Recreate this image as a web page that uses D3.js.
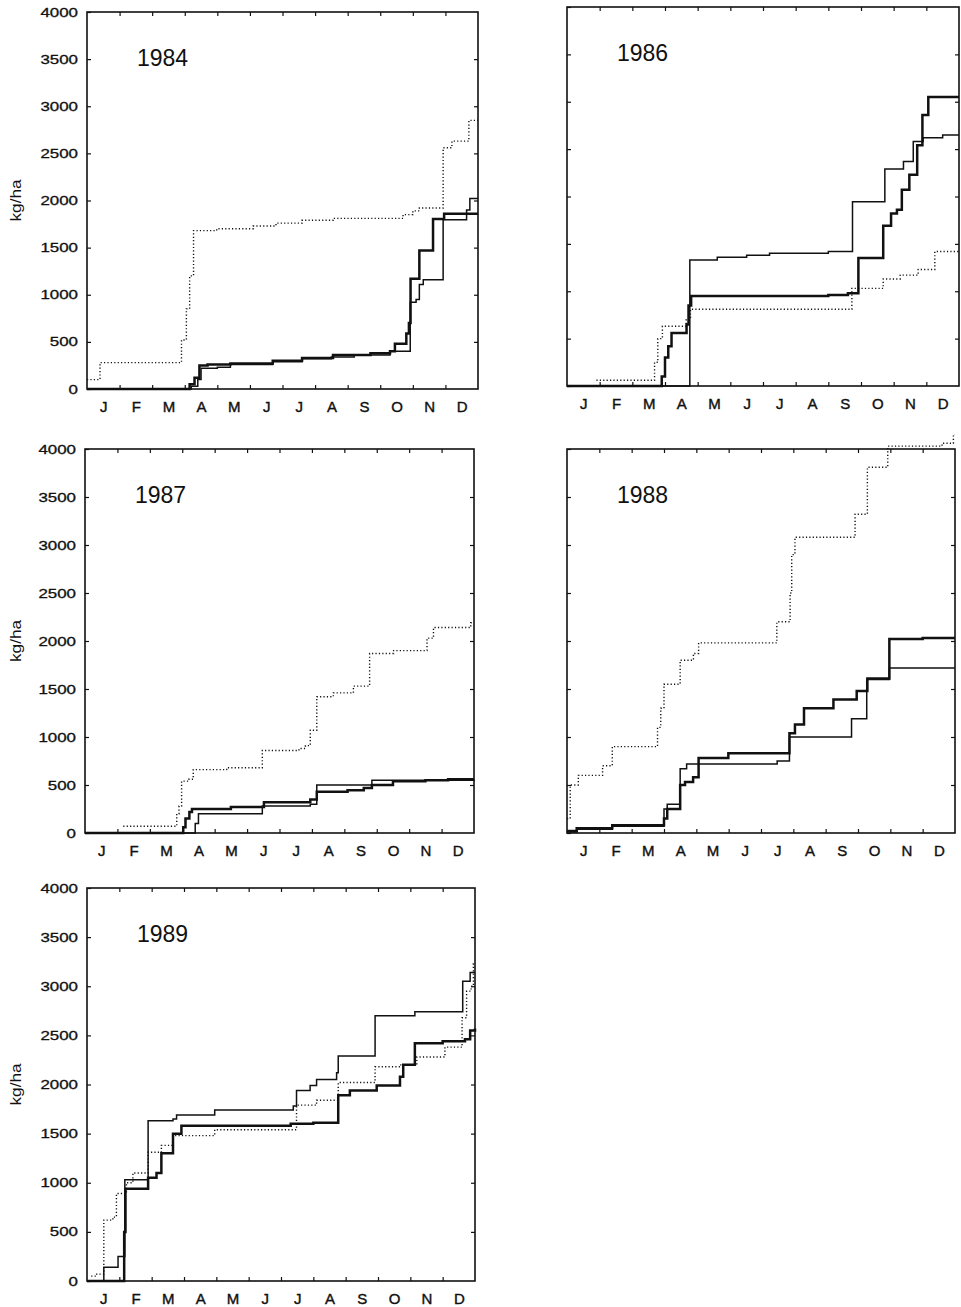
<!DOCTYPE html>
<html>
<head>
<meta charset="utf-8">
<script src="https://cdn.jsdelivr.net/npm/d3@7"></script>
<style>
  body { margin: 0; background: #fff; }
  svg text { font-family: "Liberation Sans", Arial, sans-serif; fill: #111; }
</style>
</head>
<body>
<svg id="board"></svg>
<script>
// month labels and y ticks
const monthLabels = ["J", "F", "M", "A", "M", "J", "J", "A", "S", "O", "N", "D"];
const monthBounds = [1, 2, 3, 4, 5, 6, 7, 8, 9, 10, 11];
const monthMids = [0.5, 1.5, 2.5, 3.5, 4.5, 5.5, 6.5, 7.5, 8.5, 9.5, 10.5, 11.5];
const yTickValues = [0, 500, 1000, 1500, 2000, 2500, 3000, 3500, 4000];
const yearLabels = ["1984", "1986", "1987", "1988", "1989"];

// cumulative series, [month, kg/ha]
const thick84 = [[0,0],[3.15,50],[3.3,120],[3.45,250],[3.7,260],[4.4,270],[5.7,300],[6.6,330],[7.55,360],[8.7,380],[9.3,400],[9.45,480],[9.8,590],[9.88,700],[9.93,1170],[10.2,1470],[10.62,1805],[10.96,1860],[12,1860]];
const thin84 = [[0,0],[3.2,30],[3.4,100],[3.5,220],[4.0,230],[4.4,260],[5.7,290],[6.6,320],[7.5,340],[8.2,360],[9.3,400],[9.92,920],[10.1,950],[10.2,1110],[10.32,1160],[10.93,1795],[11.65,1900],[11.75,2020],[12,2020]];
const dotted84 = [[0,100],[0.4,280],[2.9,520],[3.05,850],[3.15,1200],[3.27,1680],[3.98,1700],[5.1,1730],[5.8,1760],[6.6,1790],[7.55,1810],[9.7,1850],[10.0,1890],[10.2,1920],[10.93,2560],[11.2,2630],[11.72,2850],[12,2850]];

const thick86 = [[0,0],[2.9,100],[3.0,300],[3.1,420],[3.2,560],[3.66,650],[3.72,850],[3.8,950],[8.0,960],[8.6,980],[8.92,1350],[9.68,1690],[9.92,1820],[10.1,1860],[10.25,2070],[10.48,2230],[10.72,2540],[10.88,2860],[11.06,3050],[12,3050]];
const thin86 = [[0,0],[3.76,1330],[4.6,1360],[5.5,1380],[6.2,1400],[8.0,1420],[8.74,1945],[9.73,2290],[10.3,2370],[10.6,2580],[10.9,2620],[11.5,2650],[12,2650]];
const dotted86 = [[0.9,60],[2.68,250],[2.78,500],[2.92,630],[3.65,700],[3.78,810],[8.72,1030],[9.68,1130],[10.2,1170],[10.75,1230],[11.26,1420],[12,1420]];

const thick87 = [[0,0],[3.03,60],[3.1,150],[3.22,220],[3.3,250],[4.5,270],[5.52,320],[6.95,350],[7.15,430],[8.1,445],[8.6,470],[8.85,500],[9.5,540],[10.5,550],[11.2,560],[12,560]];
const thin87 = [[0,0],[3.4,100],[3.5,200],[5.47,280],[6.95,300],[7.15,500],[8.85,550],[12,555]];
const dotted87 = [[1.18,70],[2.83,200],[2.9,280],[2.98,540],[3.2,560],[3.34,660],[4.37,680],[5.47,860],[6.6,880],[6.8,910],[6.95,1070],[7.15,1420],[7.66,1460],[8.28,1530],[8.78,1870],[9.52,1900],[10.55,2030],[10.75,2140],[11.9,2190],[12,2190]];

const thick88 = [[0,20],[0.3,50],[1.4,80],[3.0,150],[3.1,250],[3.5,500],[3.65,530],[3.9,580],[4.07,780],[4.99,830],[6.88,1040],[7.05,1130],[7.33,1300],[8.24,1390],[8.96,1480],[9.29,1610],[9.97,2020],[11.0,2030],[12,2030]];
const thin88 = [[0,10],[0.3,40],[1.4,70],[3.0,250],[3.1,300],[3.5,670],[3.7,720],[6.5,750],[6.88,1000],[8.8,1190],[9.27,1600],[9.97,1720],[12,1720]];
const dotted88 = [[0,150],[0.1,500],[0.35,600],[1.1,700],[1.4,900],[2.8,1100],[2.9,1300],[3.0,1550],[3.5,1800],[3.91,1870],[4.07,1980],[6.49,2200],[6.9,2500],[6.95,2900],[7.05,3080],[8.91,3320],[9.29,3810],[9.92,4030],[11.6,4060],[11.95,4150],[12,4150]];

const thick89 = [[0,0],[1.15,500],[1.19,940],[1.89,1050],[2.15,1100],[2.3,1300],[2.66,1500],[2.92,1580],[6.3,1600],[7.0,1610],[7.77,1890],[8.13,1940],[8.96,1990],[9.68,2080],[9.78,2200],[10.14,2420],[11.0,2440],[11.69,2460],[11.85,2550],[12,2570]];
const thin89 = [[0,0],[0.52,140],[0.96,250],[1.17,1030],[1.89,1630],[2.66,1650],[2.77,1690],[3.95,1740],[6.38,1780],[6.48,1940],[6.9,1990],[7.1,2050],[7.72,2120],[7.77,2290],[8.91,2700],[10.14,2740],[11.62,3050],[11.85,3140],[12,3140]];
const dotted89 = [[0.13,50],[0.3,70],[0.52,620],[0.8,650],[0.91,890],[1.22,1000],[1.42,1100],[1.89,1310],[2.3,1380],[2.66,1480],[3.95,1540],[6.48,1790],[7.1,1840],[7.77,2020],[8.91,2180],[9.68,2200],[10.2,2280],[11.07,2380],[11.6,2680],[11.74,2950],[11.88,3000],[11.95,3230],[12,3230]];

const seriesByYear = [
    [thick84, thin84, dotted84],
    [thick86, thin86, dotted86],
    [thick87, thin87, dotted87],
    [thick88, thin88, dotted88],
    [thick89, thin89, dotted89]
];

// frame of each panel on the page
const frames = [
    {left: 87, right: 478, top: 12, bottom: 389, yLabels: true},
    {left: 567, right: 959, top: 7, bottom: 386, yLabels: false},
    {left: 85, right: 474, top: 449, bottom: 833, yLabels: true},
    {left: 567, right: 955, top: 449, bottom: 833, yLabels: false},
    {left: 87, right: 475, top: 888, bottom: 1281, yLabels: true}
];

const lineStyles = [
    {width: 2.5, dash: null},
    {width: 1.5, dash: null},
    {width: 1.4, dash: "1.2,2.2"}
];

let svgBoard = d3.select("#board")
    .attr("width", 961)
    .attr("height", 1307);

function drawPanel(frame, i) {
    let xScale = d3.scaleLinear().domain([0, 12]).range([frame.left, frame.right]);
    let yScale = d3.scaleLinear().domain([0, 4000]).range([frame.bottom, frame.top]);
    let g = svgBoard.append("g").attr("class", "panel");

    // inward ticks on all four sides
    g.append("g")
        .attr("transform", `translate(0,${frame.bottom})`)
        .call(d3.axisBottom(xScale).tickValues(monthBounds).tickSize(-4).tickSizeOuter(0).tickFormat(""));
    g.append("g")
        .attr("transform", `translate(0,${frame.top})`)
        .call(d3.axisTop(xScale).tickValues(monthBounds).tickSize(-4).tickSizeOuter(0).tickFormat(""));
    g.append("g")
        .attr("transform", `translate(${frame.right},0)`)
        .call(d3.axisRight(yScale).tickValues(yTickValues.slice(1, -1)).tickSize(-4).tickSizeOuter(0).tickFormat(""));
    let left = g.append("g")
        .attr("transform", `translate(${frame.left},0)`)
        .call(d3.axisLeft(yScale).tickValues(yTickValues).tickSize(-4).tickSizeOuter(0).tickPadding(9)
            .tickFormat(frame.yLabels ? d3.format("d") : ""));
    left.selectAll("text")
        .attr("font-size", 12.5)
        .attr("font-family", "Liberation Sans, Arial, sans-serif")
        .attr("stroke", "#111")
        .attr("stroke-width", 0.3)
        .attr("textLength", d => frame.yLabels ? String(d).length * 9.4 : null)
        .attr("lengthAdjust", "spacingAndGlyphs");

    // month letters centred in each month
    let months = g.append("g")
        .attr("transform", `translate(0,${frame.bottom + 8})`)
        .call(d3.axisBottom(xScale).tickValues(monthMids).tickSize(0).tickPadding(4)
            .tickFormat((d, k) => monthLabels[k]));
    months.select(".domain").remove();
    months.selectAll("text")
        .attr("font-size", 15)
        .attr("font-family", "Liberation Sans, Arial, sans-serif")
        .attr("stroke", "#111")
        .attr("stroke-width", 0.4);

    g.selectAll(".tick line").attr("stroke", "#111").attr("stroke-width", 1.2);
    g.selectAll(".domain").attr("stroke", "none");

    g.append("rect")
        .attr("x", frame.left)
        .attr("y", frame.top)
        .attr("width", frame.right - frame.left)
        .attr("height", frame.bottom - frame.top)
        .attr("fill", "none")
        .attr("stroke", "#111")
        .attr("stroke-width", 1.6);

    let line = d3.line()
        .x(d => xScale(d[0]))
        .y(d => yScale(d[1]))
        .curve(d3.curveStepAfter);

    g.selectAll(".series")
        .data(seriesByYear[i])
        .enter()
        .append("path")
        .attr("class", "series")
        .attr("fill", "none")
        .attr("stroke", "#111")
        .attr("stroke-width", (d, k) => lineStyles[k].width)
        .attr("stroke-dasharray", (d, k) => lineStyles[k].dash)
        .attr("d", line);

    g.append("text")
        .attr("x", frame.left + 50)
        .attr("y", frame.top + 54)
        .attr("font-size", 23)
        .text(yearLabels[i]);

    if (frame.yLabels) {
        const mid = (frame.top + frame.bottom) / 2;
        g.append("text")
            .attr("transform", `translate(21,${mid}) rotate(-90)`)
            .attr("text-anchor", "middle")
            .attr("font-size", 15)
            .attr("textLength", 42)
            .attr("lengthAdjust", "spacingAndGlyphs")
            .text("kg/ha");
    }
}

frames.forEach(drawPanel);
</script>
</body>
</html>
